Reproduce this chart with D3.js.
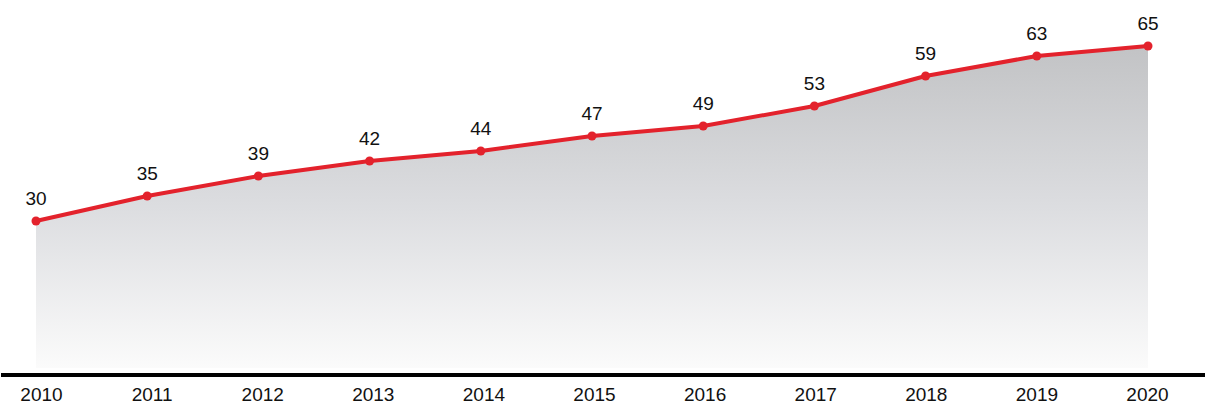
<!DOCTYPE html>
<html>
<head>
<meta charset="utf-8">
<script src="https://cdn.jsdelivr.net/npm/d3@7"></script>
<style>
  html, body { margin: 0; padding: 0; background: #fff; }
  svg text { font-family: "Liberation Sans", Arial, sans-serif; fill: #111; }
</style>
</head>
<body>
<div id="chart"></div>
<script>
var years = ["2010", "2011", "2012", "2013", "2014", "2015", "2016", "2017", "2018", "2019", "2020"];
var values = [30, 35, 39, 42, 44, 47, 49, 53, 59, 63, 65];

var width = 1206;
var height = 416;

var data = years.map(function(d, i) { return { year: d, value: values[i] }; });

var svg = d3.select("#chart")
    .append("svg")
    .attr("width", width)
    .attr("height", height);

// x and y scales
var xScale = d3.scalePoint()
    .domain(years)
    .range([36, 1148]);

// year labels sit a little to the right of the points
var xLabelScale = d3.scalePoint()
    .domain(years)
    .range([41, 1147]);

var yScale = d3.scaleLinear()
    .domain([0, 65])
    .range([371, 46]);

var areaBottom = 368;

// grey fade under the line
var defs = svg.append("defs");
var grad = defs.append("linearGradient")
    .attr("id", "fade")
    .attr("gradientUnits", "userSpaceOnUse")
    .attr("x1", 0).attr("x2", 0)
    .attr("y1", yScale(65)).attr("y2", areaBottom);
grad.append("stop").attr("offset", "0%").attr("stop-color", "#c2c3c5");
grad.append("stop").attr("offset", "50%").attr("stop-color", "#dcdde0");
grad.append("stop").attr("offset", "100%").attr("stop-color", "#fbfbfb");

var area = d3.area()
    .x(d => xScale(d.year))
    .y0(areaBottom)
    .y1(d => yScale(d.value));

svg.append("path")
    .datum(data)
    .attr("d", area)
    .attr("fill", "url(#fade)");

// bottom axis
var xAxis = svg.append("g")
    .attr("transform", "translate(0,375)")
    .call(d3.axisBottom(xLabelScale).tickSize(0).tickPadding(13));

xAxis.select(".domain").remove();
xAxis.append("line")
    .attr("x1", 1).attr("x2", 1205)
    .attr("stroke", "#000")
    .attr("stroke-width", 4);

xAxis.selectAll("text")
    .attr("font-size", "19px")
    .attr("fill", "#111")
    .style("font-family", "'Liberation Sans', Arial, sans-serif");

// red line
var line = d3.line()
    .x(d => xScale(d.year))
    .y(d => yScale(d.value));

svg.append("path")
    .datum(data)
    .attr("d", line)
    .attr("fill", "none")
    .attr("stroke", "#e3222c")
    .attr("stroke-width", 4)
    .attr("stroke-linejoin", "round");

svg.selectAll("circle.pt")
    .data(data)
    .enter()
    .append("circle")
    .attr("class", "pt")
    .attr("cx", d => xScale(d.year))
    .attr("cy", d => yScale(d.value))
    .attr("r", 4.5)
    .attr("fill", "#e3222c");

// value labels
svg.selectAll("text.val")
    .data(data)
    .enter()
    .append("text")
    .attr("class", "val")
    .attr("x", d => xScale(d.year))
    .attr("y", d => yScale(d.value) - 16)
    .attr("text-anchor", "middle")
    .attr("font-size", "19px")
    .text(d => d.value);
</script>
</body>
</html>
